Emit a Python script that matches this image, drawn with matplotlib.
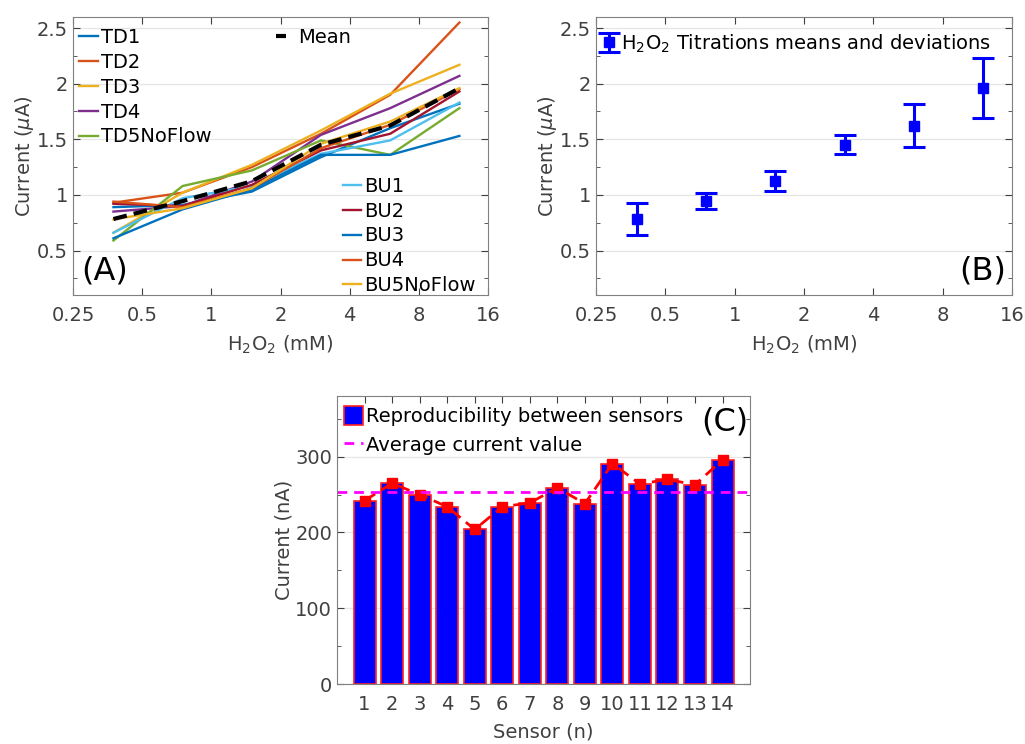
import numpy as np
import matplotlib
matplotlib.use("Agg")
from matplotlib import pyplot as plt
from matplotlib.ticker import AutoMinorLocator, MultipleLocator, NullLocator
from matplotlib.patches import Patch
from matplotlib.lines import Line2D

plt.rcParams['font.family'] = ['DejaVu Sans']
plt.rcParams['mathtext.fontset'] = 'dejavusans'

# H2O2 titrations (uA)
conc = [0.375, 0.75, 1.5, 3, 6, 12]
TD1 = [0.89, 0.91, 1.03, 1.34, 1.60, 1.82]
TD2 = [0.93, 1.02, 1.25, 1.55, 1.90, 2.55]
TD3 = [0.66, 1.02, 1.27, 1.58, 1.91, 2.17]
TD4 = [0.85, 0.90, 1.12, 1.54, 1.78, 2.07]
TD5NoFlow = [0.59, 1.08, 1.22, 1.49, 1.36, 1.78]
BU1 = [0.66, 0.97, 1.08, 1.37, 1.49, 1.83]
BU2 = [0.92, 0.90, 1.09, 1.40, 1.55, 1.93]
BU3 = [0.61, 0.87, 1.05, 1.36, 1.36, 1.53]
BU4 = [0.94, 0.89, 1.06, 1.42, 1.63, 1.95]
BU5NoFlow = [0.78, 0.88, 1.06, 1.46, 1.66, 1.96]

# reproducibility (nA)
sensors = list(range(1, 15))
sensorCurrent = [242, 265, 250, 234, 204, 234, 239, 259, 238, 291, 264, 270, 263, 296]

xticks = [0.25, 0.5, 1, 2, 4, 8, 16]
xtickLabels = ['0.25', '0.5', '1', '2', '4', '8', '16']

TICK = '#404040'
FS = 14


def styleAxes(ax):
    ax.tick_params(which='both', direction='in', top=True, right=True,
                   colors=TICK, labelsize=FS)
    ax.tick_params(which='major', length=5)
    ax.tick_params(which='minor', length=3)
    ax.tick_params(axis='x', pad=8)
    ax.tick_params(axis='y', pad=3.5)
    for s in ax.spines.values():
        s.set_color('#808080')
    ax.yaxis.grid(True, color='#e6e6e6', lw=0.9)
    ax.set_axisbelow(True)


def logAxis(ax):
    ax.set_xscale('log', base=2)
    ax.set_xlim(0.25, 16)
    ax.set_xticks(xticks)
    ax.set_xticklabels(xtickLabels)
    ax.xaxis.set_minor_locator(NullLocator())
    ax.set_ylim(0.1, 2.6)
    ax.set_yticks([0.5, 1, 1.5, 2, 2.5])
    ax.set_yticklabels(['0.5', '1', '1.5', '2', '2.5'])
    ax.yaxis.set_minor_locator(AutoMinorLocator(2))
    ax.set_xlabel(r'H$_2$O$_2$ (mM)', fontsize=FS, color=TICK, labelpad=6)
    ax.set_ylabel(r'Current ($\mu$A)', fontsize=FS, color=TICK, labelpad=1)


fig = plt.figure(figsize=(10.25, 7.44), dpi=100)

# ---- (A)
axA = fig.add_axes([0.0712, 0.6035, 0.405, 0.3737])
styleAxes(axA)
logAxis(axA)

tdNames = ['TD1', 'TD2', 'TD3', 'TD4', 'TD5NoFlow']
buNames = ['BU1', 'BU2', 'BU3', 'BU4', 'BU5NoFlow']
tdColors = ['#0072BD', '#D95319', '#EDB120', '#7E2F8E', '#77AC30']
buColors = ['#4DBEEE', '#A2142F', '#0072BD', '#D95319', '#EDB120']

tdLines = []
for vals, c, n in zip([TD1, TD2, TD3, TD4, TD5NoFlow], tdColors, tdNames):
    tdLines.append(axA.plot(conc, vals, color=c, lw=1.7, label=n)[0])
buLines = []
for vals, c, n in zip([BU1, BU2, BU3, BU4, BU5NoFlow], buColors, buNames):
    buLines.append(axA.plot(conc, vals, color=c, lw=1.7, label=n)[0])

allRuns = np.array([TD1, TD2, TD3, TD4, TD5NoFlow, BU1, BU2, BU3, BU4, BU5NoFlow])
meanVals = allRuns.mean(axis=0)
stdVals = allRuns.std(axis=0, ddof=1)
meanLine, = axA.plot(conc, meanVals, color='black', lw=3, ls=(0, (3.3, 1.7)), label='Mean')

legKw = dict(frameon=False, fontsize=FS, handlelength=0.95, handletextpad=0.15,
             labelspacing=0.3, borderpad=0, borderaxespad=0, loc='upper left')
l1 = axA.legend(handles=tdLines, bbox_to_anchor=(0.015, 0.96), **legKw)
axA.add_artist(l1)
l2 = axA.legend(handles=[meanLine], bbox_to_anchor=(0.49, 0.96),
                **{**legKw, 'handlelength': 0.5, 'handletextpad': 0.6})
axA.add_artist(l2)
axA.legend(handles=buLines, bbox_to_anchor=(0.65, 0.425), **legKw)
axA.text(0.02, 0.03, '(A)', transform=axA.transAxes, fontsize=23, ha='left', va='bottom')

# ---- (B)
axB = fig.add_axes([0.5815, 0.6035, 0.406, 0.3737])
styleAxes(axB)
logAxis(axB)
axB.errorbar(conc, meanVals, yerr=stdVals, fmt='s', color='#0000FF', ms=7,
             elinewidth=2.2, capsize=8, capthick=2.2,
             label=r'H$_2$O$_2$ Titrations means and deviations')
axB.legend(frameon=False, fontsize=FS, loc='upper left', handlelength=0.5,
           handletextpad=0.35, borderpad=0, borderaxespad=0,
           bbox_to_anchor=(0.02, 0.945))
axB.text(0.985, 0.03, '(B)', transform=axB.transAxes, fontsize=23, ha='right', va='bottom')

# ---- (C)
axC = fig.add_axes([0.3288, 0.0806, 0.403, 0.387])
styleAxes(axC)
axC.bar(sensors, sensorCurrent, width=0.8, color='#0000FF', edgecolor='#FF2020', lw=1.2)
axC.plot(sensors, sensorCurrent, color='#FF0000', lw=2, ls=(0, (4.5, 2.5)),
         marker='s', ms=7)
avgCurrent = np.mean(sensorCurrent)
axC.axhline(avgCurrent, color='#FF00FF', lw=2, ls=(0, (3.5, 2.5)))
axC.set_xlim(0, 15)
axC.set_ylim(0, 380)
axC.set_xticks(sensors)
axC.set_yticks([0, 100, 200, 300])
axC.yaxis.set_minor_locator(MultipleLocator(50))
axC.tick_params(axis='x', labelsize=FS)
axC.set_xlabel('Sensor (n)', fontsize=FS, color=TICK, labelpad=6)
axC.set_ylabel('Current (nA)', fontsize=FS, color=TICK, labelpad=1)
handlesC = [Patch(facecolor='#0000FF', edgecolor='#FF2020', lw=1.2),
            Line2D([], [], color='#FF00FF', lw=2, ls=(0, (3.5, 2.5)))]
axC.legend(handlesC, ['Reproducibility between sensors', 'Average current value'],
           frameon=False, fontsize=FS, loc='upper left', handlelength=0.95,
           handleheight=1.1, handletextpad=0.15, labelspacing=0.45, borderpad=0,
           borderaxespad=0, bbox_to_anchor=(0.018, 0.965))
axC.text(0.995, 0.965, '(C)', transform=axC.transAxes, fontsize=23, ha='right', va='top')

fig.savefig('out.png', dpi=100)
